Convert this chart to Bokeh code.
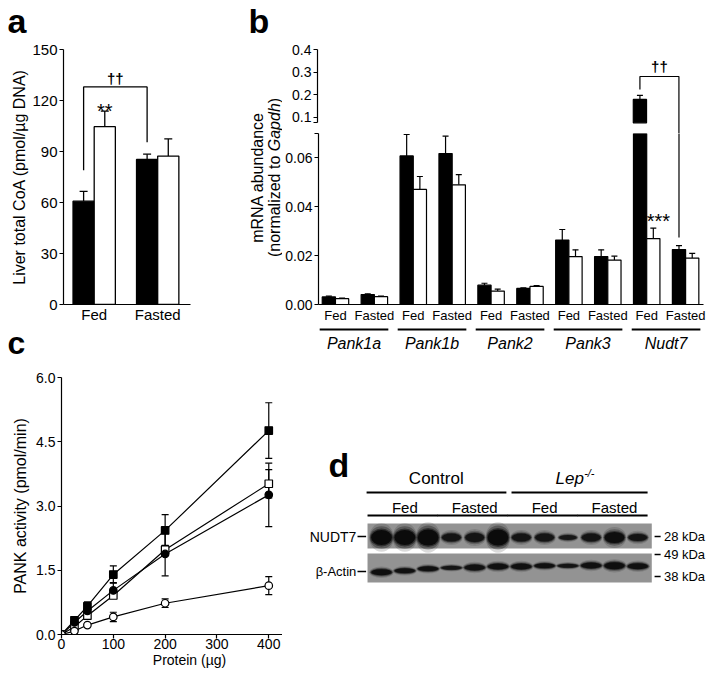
import math
from bokeh.plotting import figure
from bokeh.models import (Range1d, FixedTicker, Whisker, TeeHead, ColumnDataSource,
                          NumeralTickFormatter)
from bokeh.layouts import row, column
from bokeh.embed import file_html
from bokeh.resources import INLINE
from bokeh.core.properties import value

FONT = "Liberation Sans"

# ---------------- data ----------------
# panel a: liver total CoA (pmol/ug DNA)
a_conditions = ["Fed", "Fasted"]
a_control = [60.8, 85.3]
a_control_sem = [5.7, 3.1]
a_lep = [104.6, 87.3]
a_lep_sem = [9.2, 10.1]

# panel b: mRNA abundance (normalized to Gapdh)
b_genes = ["Pank1a", "Pank1b", "Pank2", "Pank3", "Nudt7"]
b_conditions = ["Fed", "Fasted"] * 5
b_control = [0.0031, 0.0041, 0.0608, 0.0618, 0.0079, 0.0066, 0.0264, 0.0196, 0.178, 0.0225]
b_control_sem = [0.0003, 0.0003, 0.0088, 0.0071, 0.0008, 0.0002, 0.0043, 0.0028, 0.018, 0.0016]
b_lep = [0.0024, 0.0032, 0.0471, 0.0490, 0.0055, 0.0074, 0.0196, 0.0182, 0.0270, 0.0190]
b_lep_sem = [0.0002, 0.0002, 0.0053, 0.0042, 0.0008, 0.0003, 0.0028, 0.0016, 0.0043, 0.0019]
b_break_low = 0.07
b_break_high = 0.074

# panel c: PANK activity (pmol/min) vs protein (ug)
c_protein = [0, 25, 50, 100, 200, 400]
c_filled_sq = [0.0, 0.33, 0.66, 1.40, 2.43, 4.76]
c_filled_sq_sem = [0.0, 0.03, 0.10, 0.20, 0.37, 0.65]
c_open_sq = [0.0, 0.18, 0.44, 0.91, 1.98, 3.52]
c_open_sq_sem = [0.0, 0.02, 0.04, 0.06, 0.10, 0.33]
c_filled_ci = [0.0, 0.28, 0.55, 1.03, 1.88, 3.26]
c_filled_ci_sem = [0.0, 0.03, 0.06, 0.18, 0.51, 0.74]
c_open_ci = [0.0, 0.08, 0.22, 0.41, 0.73, 1.14]
c_open_ci_sem = [0.0, 0.02, 0.03, 0.11, 0.10, 0.21]

# panel d: western blot, 12 lanes
d_genotypes = ["Control", "Lep"]
d_conditions = ["Fed", "Fasted", "Fed", "Fasted"]
d_nudt7_intensity = [1.0, 1.0, 1.0, 0.85, 0.85, 1.0, 0.85, 0.85, 0.8, 0.85, 0.95, 0.85]
d_nudt7_height = [15, 15, 16, 8, 9, 16, 8, 8, 5, 8, 11, 7]
d_nudt7_width = [0.97, 0.97, 0.97, 0.88, 0.88, 0.97, 0.88, 0.88, 0.82, 0.88, 0.92, 0.88]
d_actin_intensity = [0.95, 0.9, 0.9, 0.85, 0.9, 0.9, 0.9, 0.9, 0.85, 0.9, 0.95, 0.9]
d_actin_height = [6, 5, 5, 4, 6, 6, 6, 5, 4, 6, 7, 6]
d_actin_y = [103.3, 104.7, 106.7, 107.7, 108.0, 109.0, 109.0, 109.7, 109.7, 110.0, 109.7, 109.3]
d_markers = ["28 kDa", "49 kDa", "38 kDa"]

LETTER_SHIFT = 13  # the renderer draws the alphabetic baseline this much lower


# ---------------- helpers ----------------
def base_fig(**kw):
    p = figure(output_backend="svg", toolbar_location=None, title=None, frame_align=False, **kw)
    p.outline_line_color = None
    p.grid.visible = False
    p.background_fill_color = "white"
    p.border_fill_color = "white"
    return p


def blank_fig(w, h, xr, yr, **kw):
    return base_fig(width=w, height=h, x_range=xr, y_range=yr, x_axis_type=None,
                    y_axis_type=None, min_border=0, **kw)


def style_axis(ax, size="15px"):
    ax.axis_line_color = "black"
    ax.axis_line_width = 1.2
    ax.major_tick_line_color = "black"
    ax.major_tick_line_width = 1.2
    ax.major_tick_in = 0
    ax.major_tick_out = 4
    ax.minor_tick_in = 0
    ax.minor_tick_out = 0
    ax.major_label_text_font = FONT
    ax.major_label_text_font_size = size
    ax.major_label_text_color = "black"
    ax.major_label_standoff = 2
    ax.axis_label_text_font = FONT
    ax.axis_label_text_font_style = "normal"
    ax.axis_label_text_color = "black"


def add_whisker(p, xs, lows, highs, size, lw, both=False):
    src = ColumnDataSource(dict(x=xs, lower=lows, upper=highs))
    w = Whisker(source=src, base="x", lower="lower", upper="upper",
                upper_head=TeeHead(size=size, line_width=lw, line_color="black"),
                lower_head=TeeHead(size=size, line_width=lw, line_color="black") if both else None,
                line_width=lw, line_color="black")
    p.add_layout(w)


def letter(p, text, x, y, size=34):
    p.text(x=[x], y=[y + LETTER_SHIFT * size / 34], text=[text], text_font=value(FONT),
           text_font_size=f"{size}px", text_font_style="bold", text_baseline="alphabetic",
           text_color="black")


# ---------------- panel a ----------------
a_top = blank_fig(200, 41, Range1d(0, 200), Range1d(0, 41))
letter(a_top, "a", 7, 8)

pa = base_fig(width=200, height=284, x_range=Range1d(-1.45, 4.55), y_range=Range1d(0, 150),
              min_border_left=63, min_border_right=10, min_border_top=8, min_border_bottom=19)
a_centers = [3 * i for i in range(len(a_conditions))]
a_x_ctrl = [c - 0.5 for c in a_centers]
a_x_lep = [c + 0.5 for c in a_centers]
pa.vbar(x=a_x_ctrl, top=a_control, width=1.0, bottom=0, fill_color="black", line_color="black", line_width=1.3)
pa.vbar(x=a_x_lep, top=a_lep, width=1.0, bottom=0, fill_color="white", line_color="black", line_width=1.3)
add_whisker(pa, a_x_ctrl + a_x_lep, a_control + a_lep,
            [m + s for m, s in zip(a_control, a_control_sem)] + [m + s for m, s in zip(a_lep, a_lep_sem)],
            8, 1.3)
style_axis(pa.yaxis[0])
pa.yaxis.ticker = FixedTicker(ticks=[0, 30, 60, 90, 120, 150])
pa.yaxis.axis_label = "Liver total CoA (pmol/\u00b5g DNA)"
pa.yaxis.axis_label_text_font_size = "16px"
pa.yaxis.axis_label_standoff = 1
style_axis(pa.xaxis[0])
pa.xaxis.ticker = FixedTicker(ticks=a_centers)
pa.xaxis.major_label_overrides = {c: n for c, n in zip(a_centers, a_conditions)}
pa.xaxis.major_tick_out = 0
pa.xaxis.major_label_standoff = 1
# significance bracket
pa.line(x=[a_x_ctrl[0], a_x_ctrl[0], a_x_ctrl[1], a_x_ctrl[1]], y=[79, 128, 128, 95.5],
        line_color="black", line_width=1.3)
pa.text(x=[(a_x_ctrl[0] + a_x_ctrl[1]) / 2], y=[133], text=["\u2020\u2020"], text_font=value(FONT),
        text_font_size="15px", text_font_style="bold", text_align="center", text_baseline="alphabetic",
        text_color="black")
pa.text(x=[a_x_lep[0]], y=[114], text=["**"], text_font=value(FONT), text_font_size="20px",
        text_align="center", text_baseline="alphabetic", text_color="black")

# ---------------- panel b ----------------
xr_b = Range1d(-0.436, 9.46)
b_idx = list(range(len(b_conditions)))
b_x_ctrl = [i - 0.17 for i in b_idx]
b_x_lep = [i + 0.17 for i in b_idx]

b_up = base_fig(width=428, height=133, x_range=xr_b, y_range=Range1d(0.4 - 84 / 225, 0.4),
                x_axis_type=None, min_border_left=35, min_border_right=7, min_border_top=49,
                min_border_bottom=0)
b_low = base_fig(width=428, height=192, x_range=xr_b, y_range=Range1d(0, b_break_low),
                 min_border_left=35, min_border_right=7, min_border_top=0, min_border_bottom=18)

b_low.vbar(x=b_x_ctrl, top=b_control, width=0.34, bottom=0, fill_color="black", line_color="black", line_width=1.2)
b_low.vbar(x=b_x_lep, top=b_lep, width=0.34, bottom=0, fill_color="white", line_color="black", line_width=1.2)

lo_x, lo_l, lo_u, up_x, up_l, up_u = [], [], [], [], [], []
for xs, ms, ss in ((b_x_ctrl, b_control, b_control_sem), (b_x_lep, b_lep, b_lep_sem)):
    for x, m, s in zip(xs, ms, ss):
        if m + s <= b_break_low:
            lo_x.append(x); lo_l.append(m); lo_u.append(m + s)
        elif m > b_break_high:
            up_x.append(x); up_l.append(m); up_u.append(m + s)
add_whisker(b_low, lo_x, lo_l, lo_u, 6, 1.2)

hi_ctrl = [(x, m) for x, m in zip(b_x_ctrl, b_control) if m > b_break_high]
b_up.vbar(x=[h[0] for h in hi_ctrl], top=[h[1] for h in hi_ctrl], bottom=b_break_high, width=0.34,
          fill_color="black", line_color="black", line_width=1.2)
add_whisker(b_up, up_x, up_l, up_u, 6, 1.2)

style_axis(b_low.yaxis[0], "14px")
b_low.yaxis.ticker = FixedTicker(ticks=[0, 0.02, 0.04, 0.06, b_break_low])
b_low.yaxis.major_label_overrides = {0: "0.00", 0.02: "0.02", 0.04: "0.04", 0.06: "0.06", b_break_low: ""}
style_axis(b_low.xaxis[0], "13px")
b_low.xaxis.ticker = FixedTicker(ticks=b_idx)
b_low.xaxis.major_label_overrides = {i: c for i, c in zip(b_idx, b_conditions)}
b_low.xaxis.major_tick_out = 0
b_low.xaxis.major_label_standoff = 3

style_axis(b_up.yaxis[0], "14px")
b_up.yaxis.ticker = FixedTicker(ticks=[b_break_high, 0.1, 0.2, 0.3, 0.4])
b_up.yaxis.major_label_overrides = {b_break_high: "", 0.1: "0.1", 0.2: "0.2", 0.3: "0.3", 0.4: "0.4"}
b_up.yaxis.bounds = (b_break_high, 0.4)

# Nudt7 bracket (Fed vs Fasted control)
xL, xR = b_x_ctrl[8], b_x_ctrl[9]
b_up.line(x=[xL, xL, xR, xR], y=[0.222, 0.28, 0.28, 0.0], line_color="black", line_width=1.2)
b_low.line(x=[xR, xR], y=[0.0274, 0.2], line_color="black", line_width=1.2)
b_up.text(x=[(xL + xR) / 2], y=[0.323], text=["\u2020\u2020"], text_font=value(FONT), text_font_size="15px",
          text_font_style="bold", text_align="center", text_baseline="alphabetic", text_color="black")
b_low.text(x=[b_x_lep[8] + 0.13], y=[0.034], text=["***"], text_font=value(FONT), text_font_size="20px",
           text_align="center", text_baseline="alphabetic", text_color="black")

# y label + letter for panel b
b_lab = blank_fig(82, 325, Range1d(0, 82), Range1d(0, 325))
letter(b_lab, "b", 48, 292)
b_lab.text(x=[57], y=[148], text=["mRNA abundance"], angle=math.pi / 2, text_font=value(FONT),
           text_font_size="16px", text_align="center", text_baseline="middle", text_color="black")
fs = 16
w1, w2, w3 = 6.613 * fs, 3.0 * fs, 0.333 * fs
y0 = 148 - (w1 + w2 + w3) / 2
for txt, yy, sty in (("(normalized to ", y0, "normal"), ("Gapdh", y0 + w1, "italic"), (")", y0 + w1 + w2, "normal")):
    b_lab.text(x=[74], y=[yy], text=[txt], angle=math.pi / 2, text_font=value(FONT), text_font_size="16px",
               text_font_style=sty, text_align="left", text_baseline="middle", text_color="black")

# gene group labels under the axis (first strip of the lower right column)
b_gene = base_fig(width=428, height=27, x_range=xr_b, y_range=Range1d(0, 27), x_axis_type=None,
                  y_axis_type=None, min_border=0, min_border_left=35, min_border_right=7)
g_centers = [2 * g + 0.5 for g in range(len(b_genes))]
b_gene.segment(x0=[c - 0.88 for c in g_centers], x1=[c + 0.88 for c in g_centers], y0=23, y1=23,
               line_color="black", line_width=2)
b_gene.text(x=g_centers, y=9, text=b_genes, text_font=value(FONT), text_font_size="16px",
            text_font_style="italic", text_align="center", text_baseline="middle", text_color="black")

# ---------------- panel c ----------------
c_strip = blank_fig(282, 44, Range1d(0, 282), Range1d(0, 44))
letter(c_strip, "c", 7, 14, size=32)

pc = base_fig(width=282, height=306, x_range=Range1d(0, 426.5), y_range=Range1d(0, 6.0),
              min_border_left=61, min_border_right=0, min_border_top=8, min_border_bottom=41)
style_axis(pc.xaxis[0], "14px")
style_axis(pc.yaxis[0], "14px")
pc.xaxis.ticker = FixedTicker(ticks=[0, 100, 200, 300, 400])
pc.yaxis.ticker = FixedTicker(ticks=[0, 1.5, 3.0, 4.5, 6.0])
pc.yaxis.formatter = NumeralTickFormatter(format="0.0")
pc.yaxis.axis_label = "PANK activity (pmol/min)"
pc.yaxis.axis_label_text_font_size = "16px"
pc.yaxis.axis_label_standoff = 4
pc.xaxis.major_label_standoff = 0
pc.xaxis.axis_label = "\u00a0" * 9 + "Protein (\u00b5g)"
pc.xaxis.axis_label_text_font_size = "14px"
pc.xaxis.axis_label_standoff = 0
series = [(c_filled_sq, c_filled_sq_sem, "square", "black"),
          (c_open_sq, c_open_sq_sem, "square", "white"),
          (c_filled_ci, c_filled_ci_sem, "circle", "black"),
          (c_open_ci, c_open_ci_sem, "circle", "white")]
for ys, ss, mk, fc in series:
    pc.line(x=c_protein, y=ys, line_color="black", line_width=1.2)
for ys, ss, mk, fc in series:
    pts = [(x, y, s) for x, y, s in zip(c_protein, ys, ss) if s > 0]
    add_whisker(pc, [p[0] for p in pts], [p[1] - p[2] for p in pts], [p[1] + p[2] for p in pts], 7, 1.2, both=True)
for ys, ss, mk, fc in series:
    pc.scatter(x=c_protein, y=ys, marker=mk, size=7.5, fill_color=fc, line_color="black", line_width=1.2)

# ---------------- panel d ----------------
lane_px = 23.3
pd = blank_fig(428, 323, Range1d((282 - 381) / lane_px, (710 - 381) / lane_px), Range1d(0, 323))
lanes = list(range(len(d_nudt7_intensity)))
letter(pd, "d", (328 - 381) / lane_px, 198)
# genotype headers
pd.text(x=[2.35], y=[197], text=[d_genotypes[0]], text_font=value(FONT), text_font_size="17px",
        text_align="center", text_baseline="middle", text_color="black")
pd.text(x=[7.47], y=[197], text=[d_genotypes[1]], text_font=value(FONT), text_font_size="17px",
        text_font_style="italic", text_align="left", text_baseline="middle", text_color="black")
pd.text(x=[7.47 + 28.6 / lane_px], y=[203], text=["-/-"], text_font=value(FONT), text_font_size="11px",
        text_font_style="italic", text_align="left", text_baseline="middle", text_color="black")
pd.segment(x0=[-0.64, 5.58], x1=[5.36, 11.42], y0=183, y1=183, line_color="black", line_width=2)
grp = [3 * g for g in range(4)]
pd.text(x=[g + 1 for g in grp], y=168, text=d_conditions, text_font=value(FONT), text_font_size="15px",
        text_align="center", text_baseline="middle", text_color="black")
pd.segment(x0=[g - 0.6 for g in grp], x1=[g + 2.42 for g in grp], y0=160, y1=160,
           line_color="black", line_width=2)
# blots
pd.quad(left=[-0.6, -0.6], right=[11.6, 11.6], bottom=[127, 93], top=[152, 122],
        fill_color="#939393", line_color=None)
for sw, sh, a in ((1.1, 1.9, 0.15), (1.05, 1.5, 0.3), (1.0, 1.2, 0.5), (0.92, 1.0, 0.9)):
    pd.ellipse(x=lanes, y=138, width=[w * sw for w in d_nudt7_width],
               height=[h * sh for h in d_nudt7_height], fill_color="#080808",
               fill_alpha=[a * i for i in d_nudt7_intensity], line_color=None)
    pd.ellipse(x=lanes, y=d_actin_y, width=[0.95 * sw] * len(lanes),
               height=[h * sh for h in d_actin_height], fill_color="#080808",
               fill_alpha=[a * i for i in d_actin_intensity], line_color=None)
# left labels
pd.text(x=[-1.08, -1.08], y=[139, 104], text=["NUDT7", "\u03b2-Actin"], text_font=value(FONT),
        text_font_size=["14px", "13px"], text_align="right", text_baseline="middle", text_color="black")
pd.segment(x0=-1.03, x1=-0.66, y0=[139, 104], y1=[139, 104], line_color="black", line_width=1.5)
# right marker labels
mk_y = [139, 121, 99]
pd.segment(x0=11.72, x1=11.98, y0=mk_y, y1=mk_y, line_color="black", line_width=1.5)
pd.text(x=12.12, y=mk_y, text=d_markers, text_font=value(FONT), text_font_size="13px",
        text_align="left", text_baseline="middle", text_color="black")

# ---------------- layout ----------------
top = row(column(a_top, pa), b_lab, column(b_up, b_low))
bottom = row(column(c_strip, pc), column(b_gene, pd))
layout = column(top, bottom)
open("out.html", "w").write(file_html(layout, INLINE, title="figure"))
